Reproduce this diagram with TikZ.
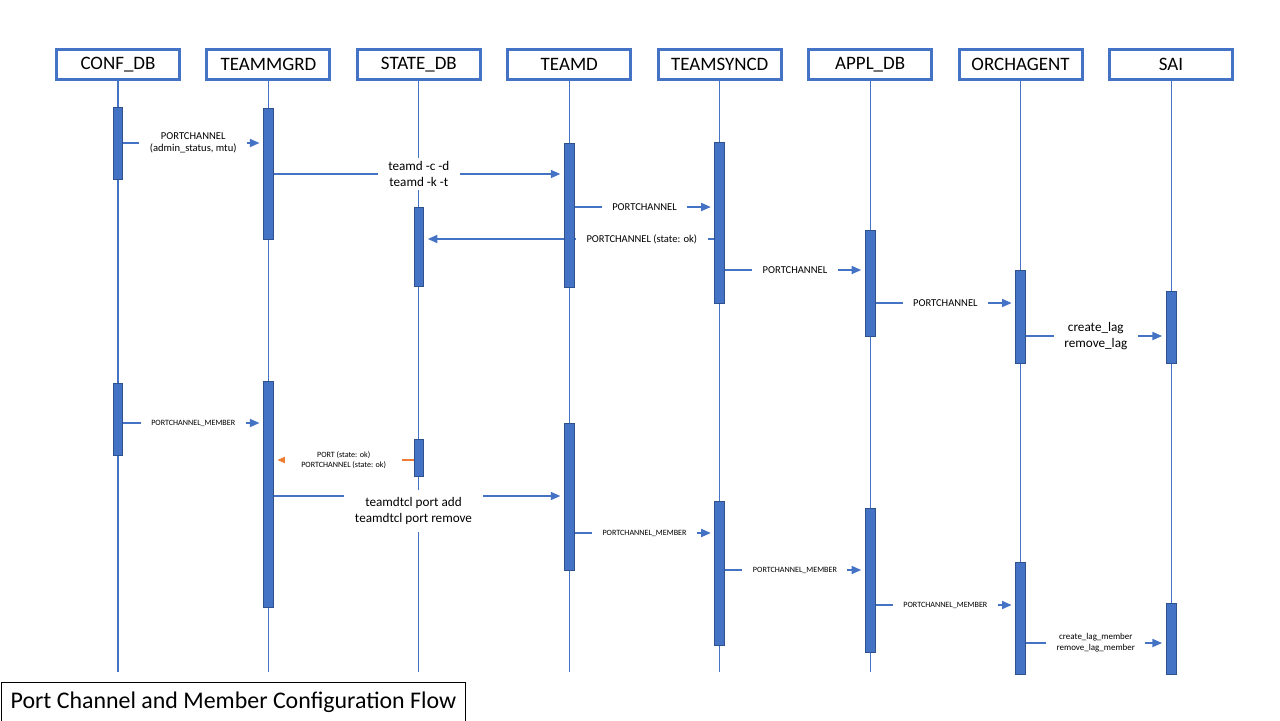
\documentclass[tikz,border=0pt]{standalone}
\usepackage{fontspec}
\setmainfont{Carlito}
\usetikzlibrary{arrows.meta,positioning,backgrounds}
\definecolor{lineblue}{HTML}{4472C4}
\definecolor{baredge}{HTML}{2F528F}
\definecolor{msgorange}{HTML}{ED7D31}

% one activation bar on a lifeline: name, actor, top, bottom (px)
\newcommand\actbar[4]{\node[actbar, minimum height={(#4-#3)*0.02cm}] (#1) at (#2 |- 0,{(#3+#4)/2}) {};}

\tikzset{
  actor/.style={draw=lineblue, line width=1.7pt, fill=white, minimum width=70pt,
    minimum height=17pt, font=\fontsize{10.8}{12}\selectfont},
  life/.style={draw=lineblue, line width=0.6pt},
  actbar/.style={draw=baredge, fill=lineblue, line width=0.5pt, minimum width=5.6pt,
    inner sep=0pt},
  msg/.style={draw=lineblue, line width=1.1pt, shorten >=2pt,
    -{Triangle[length=5.5pt,width=4.5pt]}},
  back/.style={msg, draw=msgorange},
  lbl/.style={fill=white, inner xsep=6pt, inner ysep=2pt, align=center,
    font=\fontsize{6}{7}\selectfont},
  midlbl/.style={lbl, font=\fontsize{7.5}{9}\selectfont},
  tinylbl/.style={lbl, font=\fontsize{4.6}{5.7}\selectfont},
  titlebox/.style={draw=black, line width=0.6pt, minimum width=264pt, minimum height=23pt,
    font=\fontsize{13.6}{15}\selectfont}
}

\begin{document}
\begin{tikzpicture}[x=0.02cm, y=-0.02cm]
  \useasboundingbox (0,0) rectangle (1280,720);

  \foreach \nm/\txt [count=\i from 0] in {cdb/CONF\_DB, tmg/TEAMMGRD, sdb/STATE\_DB,
      tmd/TEAMD, tsy/TEAMSYNCD, adb/APPL\_DB, orc/ORCHAGENT, sai/SAI}
    \node[actor] (\nm) at ({118+150.43*\i},64.5) {\txt};
  \coordinate (bottom) at (0,672);

  % port channel
  \actbar{cdb1}{cdb}{107}{179}
  \actbar{tmg1}{tmg}{108}{239}
  \actbar{sdb1}{sdb}{207}{286}
  \actbar{tmd1}{tmd}{143}{287}
  \actbar{tsy1}{tsy}{142}{303}
  \actbar{adb1}{adb}{230}{336}
  \actbar{orc1}{orc}{270}{363}
  \actbar{sai1}{sai}{291}{363}
  % members
  \actbar{cdb2}{cdb}{383}{455}
  \actbar{tmg2}{tmg}{381}{607}
  \actbar{sdb2}{sdb}{439}{476}
  \actbar{tmd2}{tmd}{423}{570}
  \actbar{tsy2}{tsy}{501}{645}
  \actbar{adb2}{adb}{508}{652}
  \actbar{orc2}{orc}{562}{674}
  \actbar{sai2}{sai}{603}{674}

  \begin{scope}[on background layer]
    \foreach \nm in {cdb,tmg,sdb,tmd,tsy,adb,orc,sai}
      \draw[life] (\nm.south) -- (\nm.south |- bottom);

    \draw[msg] (cdb1.east |- 0,143) -- node[lbl] {PORTCHANNEL\\(admin\_status, mtu)} (tmg1.west |- 0,143);
    \draw[msg] (tmg1.east |- 0,174) -- node[midlbl] {teamd -c -d\\teamd -k -t} (tmd1.west |- 0,174);
    \draw[msg] (tmd1.east |- 0,207) -- node[lbl] {PORTCHANNEL} (tsy1.west |- 0,207);
    \draw[msg] (tsy1.west |- 0,239) -- node[lbl, pos=0.25] {PORTCHANNEL (state: ok)} (sdb1.east |- 0,239);
    \draw[msg] (tsy1.east |- 0,270) -- node[lbl] {PORTCHANNEL} (adb1.west |- 0,270);
    \draw[msg] (adb1.east |- 0,303) -- node[lbl] {PORTCHANNEL} (orc1.west |- 0,303);
    \draw[msg] (orc1.east |- 0,336) -- node[midlbl] {create\_lag\\remove\_lag} (sai1.west |- 0,336);

    \draw[msg] (cdb2.east |- 0,423) -- node[tinylbl] {PORTCHANNEL\_MEMBER} (tmg2.west |- 0,423);
    \draw[back] (sdb2.west |- 0,460) -- node[tinylbl, inner xsep=9pt] {PORT (state: ok)\\PORTCHANNEL (state: ok)} (tmg2.east |- 0,460);
    \draw[msg] (tmg2.west |- 0,496) -- node[midlbl, yshift=-8.5pt, inner ysep=4pt] {teamdtcl port add\\teamdtcl port remove} (tmd2.west |- 0,496);
    \draw[msg] (tmd2.east |- 0,533) -- node[tinylbl] {PORTCHANNEL\_MEMBER} (tsy2.west |- 0,533);
    \draw[msg] (tsy2.east |- 0,570) -- node[tinylbl] {PORTCHANNEL\_MEMBER} (adb2.west |- 0,570);
    \draw[msg] (adb2.east |- 0,605) -- node[tinylbl] {PORTCHANNEL\_MEMBER} (orc2.west |- 0,605);
    \draw[msg] (orc2.east |- 0,643) -- node[lbl, font=\fontsize{5.1}{6.2}\selectfont] {create\_lag\_member\\remove\_lag\_member} (sai2.west |- 0,643);
  \end{scope}

  \node[titlebox, anchor=north west] (title) at (1,682) {Port Channel and Member Configuration Flow};
\end{tikzpicture}
\end{document}
